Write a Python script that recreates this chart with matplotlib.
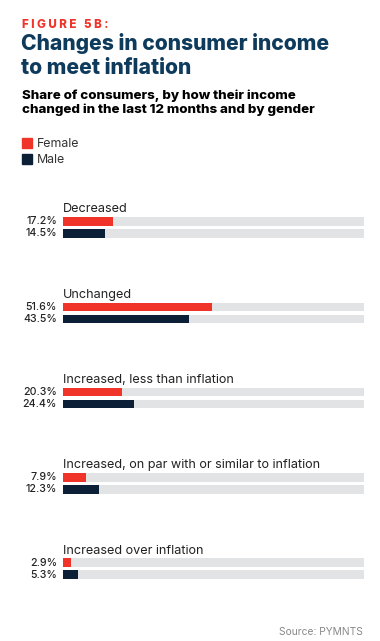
import matplotlib.pyplot as plt

# ----- DATA -----
categories = ["Decreased", "Unchanged", "Increased, less than inflation",
              "Increased, on par with or similar to inflation", "Increased over inflation"]
female = [17.2, 51.6, 20.3, 7.9, 2.9]
male = [14.5, 43.5, 24.4, 12.3, 5.3]
series_names = ["Female", "Male"]
# -----------------

RED = "#f0342a"
NAVY = "#0b2036"
TITLE_NAVY = "#0e3a5c"
TRACK = "#e2e3e5"
XMAX = 104
FONT = "Inter"

W, H = 380, 641
fig = plt.figure(figsize=(W / 100, H / 100), dpi=100)
fig.patch.set_facecolor("white")


def fy(py):
    return 1 - py / H


def fx(px):
    return px / W


fig.text(fx(22), fy(28), "F I G U R E   5 B :", color=RED, fontsize=8.4, fontweight="heavy",
         family=FONT, va="baseline")
fig.text(fx(21), fy(49.5), "Changes in consumer income", color=TITLE_NAVY, fontsize=15.2,
         fontweight="heavy", family=FONT, va="baseline")
fig.text(fx(21), fy(73.5), "to meet inflation", color=TITLE_NAVY, fontsize=15.2,
         fontweight="heavy", family=FONT, va="baseline")
fig.text(fx(22), fy(99.5), "Share of consumers, by how their income", color="black",
         fontsize=9.6, fontweight="heavy", family=FONT, va="baseline")
fig.text(fx(22), fy(113.5), "changed in the last 12 months and by gender", color="black",
         fontsize=9.6, fontweight="heavy", family=FONT, va="baseline")

# legend
for i, (name, col) in enumerate(zip(series_names, [RED, NAVY])):
    top = 138 + i * 16
    fig.patches.append(plt.Rectangle((fx(22), fy(top + 10)), 10 / W, 10 / H,
                                     transform=fig.transFigure, color=col))
    fig.text(fx(37), fy(top + 9), name, color="#333333", fontsize=8.9, family=FONT,
             va="baseline")

ax = fig.add_axes([fx(63), 0, 301 / W, 1])
ax.set_xlim(0, XMAX)
ax.set_ylim(H, 0)
ax.axis("off")

bar_h = 8.5
for i, cat in enumerate(categories):
    yf = 221.5 + i * 85.3
    ym = yf + 12
    ax.barh([yf, ym], [XMAX, XMAX], height=bar_h, color=TRACK, left=0)
    ax.barh(yf, female[i], height=bar_h, color=RED)
    ax.barh(ym, male[i], height=bar_h, color=NAVY)
    ax.text(0, yf - 9, cat, fontsize=9.1, color="#222222", family=FONT, va="baseline")
    ax.text(-2.1, yf, f"{female[i]}%", fontsize=7.6, color="#222222", family=FONT,
            fontweight="medium", ha="right", va="center")
    ax.text(-2.1, ym, f"{male[i]}%", fontsize=7.6, color="#222222", family=FONT,
            fontweight="medium", ha="right", va="center")

fig.text(fx(363), fy(635), "Source: PYMNTS", color="#888888", fontsize=7.4, family=FONT,
         ha="right", va="baseline")

fig.savefig("out.png", dpi=100, facecolor="white")
